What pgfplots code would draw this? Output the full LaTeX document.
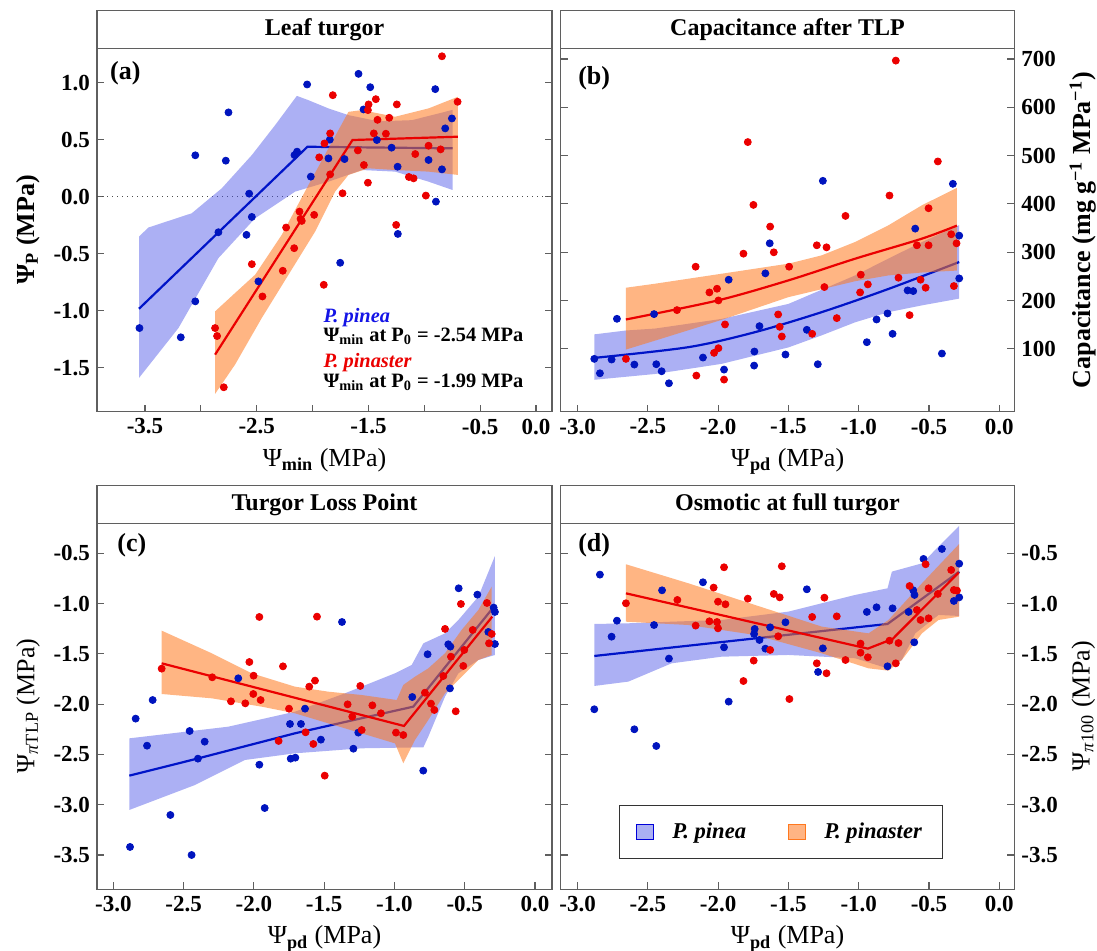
\documentclass[border=0pt]{standalone}
\usepackage{fontspec}
\setmainfont{Liberation Serif}
\usepackage{pgfplots}
\pgfplotsset{compat=1.18}
\definecolor{ptblue}{RGB}{0,20,190}
\definecolor{ptred}{RGB}{235,0,0}
\definecolor{ribblue}{RGB}{70,80,230}
\definecolor{ribor}{RGB}{255,120,30}
\definecolor{lnblue}{RGB}{0,20,200}
\definecolor{lnred}{RGB}{235,0,0}
\definecolor{bordergray}{RGB}{95,95,95}
\definecolor{antblue}{RGB}{20,20,230}
\newcommand{\tickfont}{\fontsize{11.5}{12}\selectfont\bfseries}
\newcommand{\labfont}{\fontsize{13}{14}\selectfont}
\newcommand{\annfont}{\fontsize{10.2}{11}\selectfont\bfseries}
\pgfplotsset{
  panel/.style={scale only axis, anchor=south west,
    axis line style={draw=bordergray, line width=0.7pt},
    tick style={draw=bordergray, line width=0.6pt},
    major tick length=3.5pt, tick align=inside,
    xtick pos=left, ytick pos=both,
    tick label style={font=\tickfont},
    label style={font=\labfont},
    clip=true},
  bpts/.style={only marks, mark=*, mark size=1.75pt, color=ptblue},
  rpts/.style={only marks, mark=*, mark size=1.75pt, color=ptred},
  bband/.style={draw=none, fill=ribblue, fill opacity=0.45, forget plot},
  oband/.style={draw=none, fill=ribor, fill opacity=0.55, forget plot},
  bline/.style={lnblue, line width=1.1pt},
  rline/.style={lnred, line width=1.1pt},
}
\begin{document}
\begin{tikzpicture}
\useasboundingbox (0,0) rectangle (548.5pt,475.5pt);

% ---------------- (a) ----------------
\begin{axis}[panel, at={(48.5pt,269.65pt)}, width=227.5pt, height=181.7pt,
  xmin=-3.93, xmax=0.143, ymin=-1.885, ymax=1.30,
  xtick={-3.5,-3,-2.5,-2,-1.5,-1,-0.5,0}, xticklabels={-3.5,,-2.5,,-1.5,,-0.5,0.0},
  ytick={-1.5,-1,-0.5,0,0.5,1}, yticklabels={-1.5,-1.0,-0.5,0.0,0.5,1.0},
  xlabel={Ψ\textsubscript{\textbf{min}} (MPa)},
  ylabel={\bfseries Ψ\textsubscript{P} (MPa)}]
\addplot[black!70, dotted, line width=0.5pt] coordinates {(-3.93,0) (0.143,0)};
\addplot[bpts] coordinates {
(-3.55,-1.152) (-3.18,-1.233) (-3.05,-0.918) (-3.05,0.362) (-2.777,0.315) (-2.753,0.738)
(-2.568,0.026) (-2.843,-0.312) (-2.544,-0.178) (-2.592,-0.335) (-2.485,-0.743) (-2.162,0.364)
(-2.139,0.394) (-2.049,0.983) (-2.016,0.175) (-1.846,0.499) (-1.753,-0.580) (-1.589,1.076)
(-1.544,0.764) (-1.484,0.959) (-1.425,0.496) (-1.293,0.429) (-1.239,0.262) (-1.237,-0.327)
(-0.962,0.321) (-0.902,0.942) (-0.896,-0.044) (-0.842,0.239) (-0.813,0.598) (-0.753,0.685)
(-1.858,0.335) (-1.714,0.329)};
\addplot[rpts] coordinates {
(-2.873,-1.152) (-2.855,-1.222) (-2.795,-1.671) (-2.544,-0.592) (-2.449,-0.875) (-2.267,-0.650)
(-2.237,-0.271) (-2.165,-0.452) (-2.117,-0.131) (-2.097,-0.213) (-2.108,-0.195) (-1.986,-0.160)
(-1.941,0.344) (-1.900,-0.773) (-1.894,0.466) (-1.843,0.554) (-1.843,0.195) (-1.819,0.889)
(-1.732,0.029) (-1.595,0.405) (-1.541,0.277) (-1.505,0.122) (-1.499,0.808) (-1.505,0.758)
(-1.434,0.854) (-1.419,0.673) (-1.452,0.554) (-1.344,0.551) (-1.314,0.691) (-1.246,0.808)
(-1.252,-0.248) (-1.138,0.172) (-1.096,0.160) (-1.081,0.373) (-0.986,0.009) (-0.962,0.446)
(-0.854,0.414) (-0.842,1.230) (-0.702,0.831)};
\addplot[bband] coordinates {
(-3.554,-0.350) (-3.470,-0.271) (-3.082,-0.146) (-2.813,0.073) (-2.544,0.364) (-2.335,0.627)
(-2.141,0.883) (-2.037,0.845) (-1.858,0.773) (-1.679,0.714) (-1.410,0.66) (-1.111,0.67) (-0.747,0.76)
(-0.747,0.058) (-0.962,0.131) (-1.261,0.219) (-1.559,0.233) (-1.858,0.131) (-2.156,0.044)
(-2.515,-0.190) (-2.843,-0.539) (-3.201,-1.152) (-3.554,-1.589)};
\addplot[bline] coordinates {(-3.554,-0.983) (-2.046,0.437) (-0.747,0.423)};
\addplot[oband] coordinates {
(-2.873,-1.006) (-2.694,-0.845) (-2.515,-0.685) (-2.276,-0.335) (-2.037,0.102) (-1.858,0.423)
(-1.679,0.743) (-1.559,0.758) (-1.261,0.700) (-0.962,0.773) (-0.699,0.875)
(-0.699,0.190) (-0.962,0.219) (-1.261,0.233) (-1.499,0.248) (-1.679,0.190) (-1.798,0.044)
(-1.977,-0.306) (-2.216,-0.685) (-2.455,-1.064) (-2.694,-1.472) (-2.873,-1.729)};
\addplot[rline] coordinates {(-2.873,-1.385) (-1.643,0.496) (-0.699,0.525)};
\node[anchor=west, inner sep=0pt, font=\fontsize{13}{14}\selectfont\bfseries] at (axis description cs:0.028,0.932) {(a)};
\node[anchor=west, inner sep=0pt, font=\annfont\itshape, text=antblue] at (axis description cs:0.497,0.259) {P. pinea};
\node[anchor=west, inner sep=0pt, font=\annfont] at (axis description cs:0.497,0.207) {Ψ\textsubscript{min} at P\textsubscript{0} = -2.54 MPa};
\node[anchor=west, inner sep=0pt, font=\annfont\itshape, text=ptred] at (axis description cs:0.497,0.134) {P. pinaster};
\node[anchor=west, inner sep=0pt, font=\annfont] at (axis description cs:0.497,0.082) {Ψ\textsubscript{min} at P\textsubscript{0} = -1.99 MPa};
\end{axis}

% ---------------- (b) ----------------
\begin{axis}[panel, at={(280.35pt,269.65pt)}, width=226.8pt, height=181.7pt,
  xmin=-3.12, xmax=0.107, ymin=-30, ymax=722,
  xtick={-3,-2.5,-2,-1.5,-1,-0.5,0}, xticklabels={-3.0,-2.5,-2.0,-1.5,-1.0,-0.5,0.0},
  ytick={100,200,300,400,500,600,700}, yticklabels={100,200,300,400,500,600,700},
  yticklabel pos=right,
  xlabel={Ψ\textsubscript{\textbf{pd}} (MPa)},
  ylabel={\bfseries Capacitance (mg g\textsuperscript{−1} MPa\textsuperscript{−1})}]
\addplot[bpts] coordinates {
(-2.881,79.3) (-2.841,49.5) (-2.758,77.9) (-2.720,162.2) (-2.596,67.5) (-2.440,68.2)
(-2.402,53.7) (-2.350,28.8) (-2.108,82.0) (-1.958,57.1) (-1.744,65.4) (-1.742,94.5)
(-1.706,147.0) (-1.633,318.4) (-1.521,88.2) (-1.369,139.4) (-1.291,68.2) (-1.255,447.7)
(-0.942,113.8) (-0.873,160.8) (-0.795,173.3) (-0.759,131.1) (-0.652,221.0) (-0.612,219.6)
(-0.408,90.3) (-0.330,441.5) (-0.285,334.3) (-0.285,245.8) (-2.456,171.9) (-1.925,243.1)
(-1.664,256.2) (-0.598,348.8)};
\addplot[rpts] coordinates {
(-2.656,79.3) (-2.293,180.2) (-2.160,270.0) (-2.155,44.7) (-2.062,216.8) (-2.008,224.4)
(-1.998,200.2) (-2.029,91.7) (-1.998,101.4) (-1.951,150.5) (-1.958,36.4) (-1.820,297.0)
(-1.789,527.9) (-1.749,397.9) (-1.630,353.0) (-1.604,299.8) (-1.573,171.2) (-1.562,145.6)
(-1.547,125.6) (-1.495,270.0) (-1.331,131.1) (-1.298,314.3) (-1.244,227.9) (-1.229,310.1)
(-1.156,163.6) (-1.094,375.1) (-0.990,216.8) (-0.985,253.5) (-0.935,233.4) (-0.781,417.3)
(-0.736,696.5) (-0.717,247.2) (-0.638,169.8) (-0.586,314.3) (-0.560,243.1) (-0.524,226.5)
(-0.503,391.0) (-0.503,314.3) (-0.437,487.8) (-0.342,337.1) (-0.323,230.0) (-0.304,318.4)};
\addplot[bband] coordinates {
(-2.881,130) (-2.656,138) (-2.449,142) (-1.975,162) (-1.500,193) (-1.025,252) (-0.788,287)
(-0.550,321) (-0.285,356)
(-0.285,204) (-0.550,190) (-0.788,176) (-1.025,155) (-1.263,128) (-1.500,103) (-1.975,69)
(-2.449,48) (-2.881,36)};
\addplot[bline, smooth] coordinates {(-2.881,81.3) (-2.212,103.5) (-1.737,134.6) (-1.263,176) (-0.788,224) (-0.285,279.7)};
\addplot[oband] coordinates {
(-2.656,226.5) (-2.449,234.8) (-1.975,255.5) (-1.500,276.3) (-1.263,293.5) (-1.025,321.2)
(-0.788,355.8) (-0.550,397.2) (-0.301,433.2)
(-0.301,262) (-0.550,258) (-0.788,252) (-1.025,240) (-1.500,207) (-1.975,160) (-2.449,117)
(-2.656,98.6)};
\addplot[rline, smooth] coordinates {(-2.656,160.8) (-2.003,200.2) (-1.500,241.7) (-1.025,286.6) (-0.550,328.1) (-0.301,355.1)};
\node[anchor=west, inner sep=0pt, font=\fontsize{13}{14}\selectfont\bfseries] at (axis description cs:0.038,0.918) {(b)};
\end{axis}

% ---------------- (c) ----------------
\begin{axis}[panel, at={(48.5pt,30.85pt)}, width=227.5pt, height=183pt,
  xmin=-3.116, xmax=0.121, ymin=-3.841, ymax=-0.2015,
  xtick={-3,-2.5,-2,-1.5,-1,-0.5,0}, xticklabels={-3.0,-2.5,-2.0,-1.5,-1.0,-0.5,0.0},
  ytick={-3.5,-3,-2.5,-2,-1.5,-1,-0.5}, yticklabels={-3.5,-3.0,-2.5,-2.0,-1.5,-1.0,-0.5},
  xlabel={Ψ\textsubscript{\textbf{pd}} (MPa)},
  ylabel={Ψ\textsubscript{\textit{π}TLP} (MPa)}]
\addplot[bpts] coordinates {
(-2.881,-3.420) (-2.841,-2.144) (-2.760,-2.413) (-2.720,-1.959) (-2.594,-3.102) (-2.457,-2.267)
(-2.443,-3.500) (-2.398,-2.542) (-2.350,-2.373) (-2.111,-1.743) (-1.961,-2.602) (-1.923,-3.033)
(-1.743,-2.197) (-1.738,-2.542) (-1.705,-2.532) (-1.665,-2.197) (-1.636,-2.045) (-1.523,-2.353)
(-1.373,-1.183) (-1.292,-2.443) (-1.257,-2.283) (-0.873,-1.929) (-0.795,-2.661) (-0.764,-1.504)
(-0.617,-1.405) (-0.602,-1.428) (-0.605,-1.843) (-0.543,-0.848) (-0.410,-0.911) (-0.332,-1.282)
(-0.294,-1.040) (-0.285,-1.083) (-0.285,-1.402)};
\addplot[rpts] coordinates {
(-2.656,-1.647) (-2.296,-1.733) (-2.163,-1.972) (-2.061,-1.992) (-2.032,-1.581) (-2.002,-1.717)
(-2.004,-1.899) (-1.961,-1.133) (-1.952,-1.959) (-1.824,-2.366) (-1.793,-1.624) (-1.750,-2.045)
(-1.632,-2.280) (-1.606,-1.826) (-1.577,-2.396) (-1.565,-1.766) (-1.551,-1.130) (-1.496,-2.711)
(-1.333,-2.002) (-1.300,-2.124) (-1.243,-1.819) (-1.233,-2.257) (-1.157,-2.012) (-1.096,-2.091)
(-0.989,-2.283) (-0.937,-2.307) (-0.783,-1.886) (-0.740,-1.995) (-0.716,-2.058) (-0.652,-1.720)
(-0.640,-1.252) (-0.598,-1.528) (-0.564,-2.071) (-0.527,-1.004) (-0.510,-1.620) (-0.503,-1.461)
(-0.443,-1.262) (-0.342,-0.994) (-0.327,-1.395) (-0.308,-1.302)};
\addplot[bband] coordinates {
(-2.886,-2.340) (-2.182,-2.224) (-1.708,-2.075) (-1.352,-1.892) (-0.996,-1.693) (-0.877,-1.610)
(-0.794,-1.395) (-0.640,-1.296) (-0.545,-1.163) (-0.403,-0.931) (-0.285,-0.527)
(-0.285,-1.511) (-0.403,-1.561) (-0.545,-1.693) (-0.640,-1.925) (-0.759,-2.323) (-0.794,-2.429)
(-1.233,-2.439) (-1.708,-2.489) (-2.063,-2.555) (-2.419,-2.804) (-2.886,-3.052)};
\addplot[bline] coordinates {(-2.886,-2.711) (-2.398,-2.54) (-1.708,-2.29) (-1.233,-2.14) (-0.866,-2.025) (-0.296,-1.037)};
\addplot[oband] coordinates {
(-2.656,-1.269) (-2.300,-1.494) (-2.016,-1.693) (-1.708,-1.826) (-1.470,-1.876) (-1.233,-1.909)
(-0.984,-1.959) (-0.937,-1.809) (-0.854,-1.727) (-0.759,-1.644) (-0.640,-1.494) (-0.522,-1.262)
(-0.403,-1.064) (-0.308,-0.831)
(-0.308,-1.511) (-0.403,-1.561) (-0.522,-1.727) (-0.640,-1.892) (-0.759,-2.157) (-0.854,-2.356)
(-0.937,-2.588) (-0.996,-2.390) (-1.233,-2.290) (-1.470,-2.191) (-1.708,-2.091) (-1.945,-2.025)
(-2.300,-1.942) (-2.656,-1.899)};
\addplot[rline] coordinates {(-2.656,-1.594) (-0.932,-2.217) (-0.304,-1.130)};
\node[anchor=west, inner sep=0pt, font=\fontsize{13}{14}\selectfont\bfseries] at (axis description cs:0.044,0.941) {(c)};
\end{axis}

% ---------------- (d) ----------------
\begin{axis}[panel, at={(280.35pt,30.85pt)}, width=226.8pt, height=183pt,
  xmin=-3.12, xmax=0.107, ymin=-3.841, ymax=-0.2015,
  xtick={-3,-2.5,-2,-1.5,-1,-0.5,0}, xticklabels={-3.0,-2.5,-2.0,-1.5,-1.0,-0.5,0.0},
  ytick={-3.5,-3,-2.5,-2,-1.5,-1,-0.5}, yticklabels={-3.5,-3.0,-2.5,-2.0,-1.5,-1.0,-0.5},
  yticklabel pos=right,
  xlabel={Ψ\textsubscript{\textbf{pd}} (MPa)},
  ylabel={Ψ\textsubscript{\textit{π}100} (MPa)},
  legend columns=2,
  legend style={at={(0.4857,0.1566)}, anchor=center, draw=black!80, line width=0.6pt,
    font=\fontsize{11.3}{12}\selectfont\bfseries\itshape, inner xsep=8.5pt, inner ysep=6.5pt,
    /tikz/every odd column/.append style={column sep=7pt},
    /tikz/every even column/.append style={column sep=19pt}},
  legend cell align=left]
\addlegendimage{legend image code/.code={\draw[draw=blue!85!black, line width=0.6pt, fill=ribblue, fill opacity=0.45] (0pt,-3.75pt) rectangle (8.5pt,3.75pt);}}
\addlegendentry{P. pinea}
\addlegendimage{legend image code/.code={\draw[draw=ribor, line width=0.6pt, fill=ribor, fill opacity=0.55] (0pt,-3.75pt) rectangle (8.5pt,3.75pt);}}
\addlegendentry{P. pinaster}
\addplot[bpts, forget plot] coordinates {
(-2.881,-2.051) (-2.841,-0.712) (-2.758,-1.329) (-2.720,-1.170) (-2.596,-2.250) (-2.456,-1.213)
(-2.440,-2.416) (-2.399,-0.868) (-2.350,-1.547) (-2.108,-0.788) (-1.958,-1.435) (-1.925,-1.975)
(-1.744,-1.302) (-1.740,-1.252) (-1.706,-1.362) (-1.664,-1.448) (-1.630,-1.236) (-1.521,-1.186)
(-1.369,-0.858) (-1.289,-1.680) (-1.255,-1.445) (-0.942,-1.083) (-0.873,-1.037) (-0.795,-1.624)
(-0.759,-1.047) (-0.645,-1.083) (-0.612,-0.868) (-0.603,-0.914) (-0.605,-1.385) (-0.539,-0.556)
(-0.408,-0.457) (-0.323,-0.974) (-0.285,-0.603) (-0.285,-0.938)};
\addplot[rpts, forget plot] coordinates {
(-2.656,-0.997) (-2.290,-0.964) (-2.160,-1.219) (-2.062,-1.176) (-2.032,-0.841) (-2.008,-1.183)
(-2.001,-0.981) (-2.001,-1.246) (-1.958,-0.639) (-1.948,-1.007) (-1.820,-1.770) (-1.789,-0.951)
(-1.747,-1.567) (-1.630,-1.461) (-1.604,-0.904) (-1.573,-1.325) (-1.562,-0.938) (-1.547,-0.629)
(-1.493,-1.949) (-1.331,-1.133) (-1.298,-1.594) (-1.244,-0.941) (-1.229,-1.693) (-1.156,-1.127)
(-1.094,-1.561) (-0.987,-1.398) (-0.987,-1.488) (-0.935,-1.534) (-0.781,-1.369) (-0.736,-1.594)
(-0.717,-1.392) (-0.638,-0.825) (-0.586,-1.064) (-0.560,-1.163) (-0.524,-0.609) (-0.503,-0.848)
(-0.503,-1.146) (-0.437,-0.904) (-0.342,-0.666) (-0.323,-0.865) (-0.301,-0.871)};
\addplot[bband] coordinates {
(-2.881,-1.203) (-2.639,-1.196) (-2.331,-1.18) (-1.975,-1.163) (-1.500,-1.080) (-1.263,-0.997)
(-1.025,-0.914) (-0.795,-0.848) (-0.764,-0.682) (-0.550,-0.60) (-0.432,-0.434) (-0.285,-0.228)
(-0.285,-1.123) (-0.432,-1.113) (-0.598,-1.296) (-0.693,-1.561) (-0.795,-1.644) (-1.025,-1.544)
(-1.500,-1.511) (-1.975,-1.528) (-2.331,-1.594) (-2.639,-1.776) (-2.881,-1.819)};
\addplot[bline, forget plot] coordinates {(-2.881,-1.521) (-0.930,-1.223) (-0.795,-1.203) (-0.285,-0.682)};
\addplot[oband] coordinates {
(-2.656,-0.609) (-2.212,-0.798) (-1.737,-1.014) (-1.263,-1.229) (-0.930,-1.296) (-0.788,-1.163)
(-0.550,-0.798) (-0.285,-0.407)
(-0.285,-1.130) (-0.432,-1.163) (-0.550,-1.296) (-0.693,-1.561) (-0.788,-1.667) (-0.930,-1.644)
(-1.263,-1.494) (-1.737,-1.312) (-2.212,-1.213) (-2.656,-1.180)};
\addplot[rline, forget plot] coordinates {(-2.656,-0.898) (-0.935,-1.448) (-0.759,-1.352) (-0.289,-0.692)};
\node[anchor=west, inner sep=0pt, font=\fontsize{13}{14}\selectfont\bfseries] at (axis description cs:0.038,0.941) {(d)};
\end{axis}

% ---------------- strips ----------------
\begin{scope}[font=\fontsize{12}{13}\selectfont\bfseries]
\draw[bordergray, line width=0.7pt, fill=white] (48.5pt,451.35pt) rectangle (276pt,470.15pt);
\node at (162.25pt,460.75pt) {Leaf turgor};
\draw[bordergray, line width=0.7pt, fill=white] (280.35pt,451.35pt) rectangle (507.15pt,470.15pt);
\node at (393.75pt,460.75pt) {Capacitance after TLP};
\draw[bordergray, line width=0.7pt, fill=white] (48.5pt,213.85pt) rectangle (276pt,232.65pt);
\node at (162.25pt,223.25pt) {Turgor Loss Point};
\draw[bordergray, line width=0.7pt, fill=white] (280.35pt,213.85pt) rectangle (507.15pt,232.65pt);
\node at (393.75pt,223.25pt) {Osmotic at full turgor};
\end{scope}
\end{tikzpicture}
\end{document}
